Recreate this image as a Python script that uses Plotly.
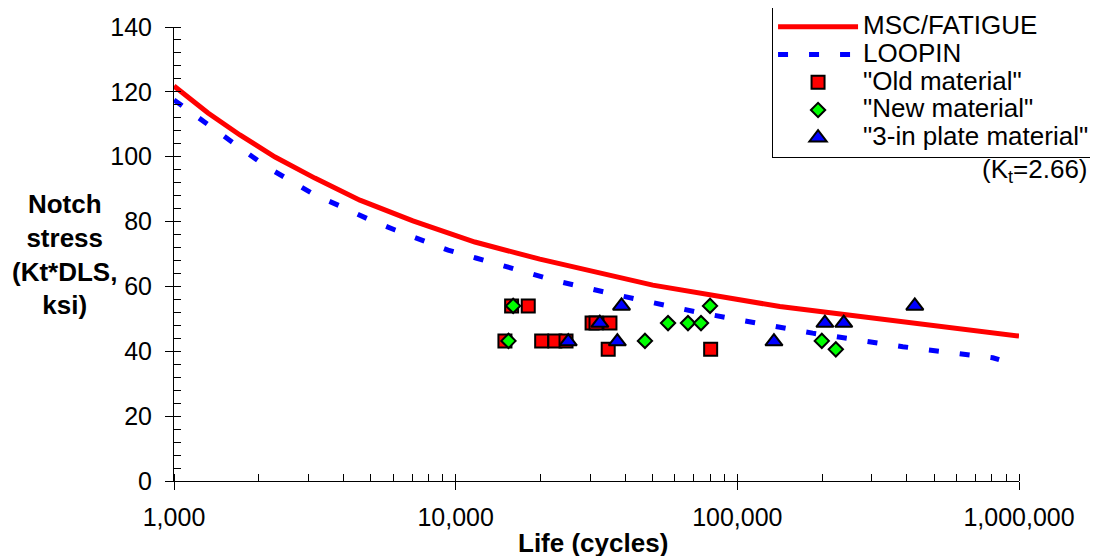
import plotly.graph_objects as go

# MSC/FATIGUE prediction curve (cycles, ksi)
msc_life = [1000, 1321, 1714, 2285, 3162, 4570, 7050, 11700, 19900, 50100, 141600, 553000, 1000000]
msc_stress = [121.8, 113.5, 106.7, 99.9, 93.4, 86.6, 80.2, 73.7, 68.4, 60.4, 53.8, 47.4, 44.7]

# LOOPIN prediction curve
loopin_life = [1000, 1204, 1456, 1757, 2132, 2617, 3162, 3934, 4887, 6095, 7657, 9400, 11880,
               22800, 37200, 73600, 185000, 387000, 807000, 850000]
loopin_stress = [117.5, 112.3, 107.2, 102.1, 96.9, 92.6, 88.2, 84.6, 80.8, 77.4, 74.3, 71.2, 68.7,
                 61.7, 57.4, 51.9, 45.6, 41.4, 38.0, 37.4]

# Test data
old_life = [14960, 15800, 18100, 20200, 22500, 24650, 30500, 31500, 35300, 34800, 80400]
old_stress = [43.2, 54.0, 54.0, 43.2, 43.2, 43.2, 48.7, 48.7, 48.7, 40.6, 40.6]

new_life = [15400, 16000, 47000, 56750, 66800, 74300, 80000, 199500, 223700]
new_stress = [43.2, 54.0, 43.2, 48.7, 48.7, 48.7, 54.0, 43.2, 40.6]

plate_life = [25100, 32500, 37500, 38800, 134900, 204600, 238700, 426600]
plate_stress = [43.0, 48.7, 43.0, 54.0, 43.0, 48.7, 48.7, 54.0]

x_ticks = [1000, 10000, 100000, 1000000]
x_ticktext = ["1,000", "10,000", "100,000", "1,000,000"]

FONT = "Arial, Liberation Sans, sans-serif"


def lg(name):
    return '<span style="font-size:26px">' + name + '</span>'


fig = go.Figure()
fig.add_trace(go.Scatter(x=msc_life, y=msc_stress, mode="lines", name=lg("MSC/FATIGUE"),
                         line=dict(color="#FF0000", width=5)))
fig.add_trace(go.Scatter(x=loopin_life, y=loopin_stress, mode="lines", name=lg("LOOPIN"),
                         line=dict(color="#0000FF", width=5, dash="10px,21px")))
fig.add_trace(go.Scatter(x=old_life, y=old_stress, mode="markers", name=lg('"Old material"'),
                         marker=dict(symbol="square", size=13, color="#FF0000",
                                     line=dict(color="#000000", width=2))))
fig.add_trace(go.Scatter(x=new_life, y=new_stress, mode="markers", name=lg('"New material"'),
                         marker=dict(symbol="diamond", size=11, color="#00FF00",
                                     line=dict(color="#000000", width=2))))
fig.add_trace(go.Scatter(x=plate_life, y=plate_stress, mode="markers", name=lg('"3-in plate material"'),
                         marker=dict(symbol="triangle-up", size=15, color="#0000FF",
                                     line=dict(color="#000000", width=2))))

fig.update_layout(
    width=1098, height=556,
    margin=dict(l=166, r=87, t=19, b=83, autoexpand=False),
    paper_bgcolor="white", plot_bgcolor="white",
    font=dict(family=FONT, size=26, color="black"),
    showlegend=True,
    legend=dict(x=1.09, xanchor="right", y=1.044, yanchor="top",
                bgcolor="white", bordercolor="black", borderwidth=1,
                font=dict(family=FONT, size=19, color="black"),
                itemwidth=80, tracegroupgap=0),
    xaxis=dict(type="log", range=[3, 6], tickmode="array", tickvals=x_ticks, ticktext=x_ticktext,
               ticks="outside", ticklen=8, tickcolor="black", tickwidth=1, automargin=False,
               showline=True, linecolor="black", linewidth=1, showgrid=False, zeroline=False,
               ticklabelstandoff=6,
               minor=dict(ticks="inside", ticklen=7, tickcolor="black", tickwidth=1,
                          dtick="D1", showgrid=False),
               tickfont=dict(family=FONT, size=25)),
    xaxis2=dict(type="log", range=[3, 6], overlaying="x", anchor="y", side="bottom",
                tickmode="array", tickvals=x_ticks, ticks="inside", ticklen=7,
                tickcolor="black", showticklabels=False, showline=False, showgrid=False,
                zeroline=False, automargin=False),
    yaxis=dict(range=[0, 140], dtick=20, ticks="outside", ticklen=8, tickcolor="black",
               tickwidth=1, showline=True, linecolor="black", linewidth=1, showgrid=False,
               zeroline=False, ticklabelstandoff=8, automargin=False,
               minor=dict(ticks="inside", ticklen=7, tickcolor="black", tickwidth=1,
                          dtick=4, showgrid=False),
               tickfont=dict(family=FONT, size=25)),
    yaxis2=dict(range=[0, 140], dtick=20, overlaying="y", anchor="x", side="left",
                ticks="inside", ticklen=7, tickcolor="black", showticklabels=False,
                showline=False, showgrid=False, zeroline=False, automargin=False),
)

fig.add_annotation(text="<b>Notch<br>stress<br>(Kt*DLS,<br>ksi)</b>", xref="paper", yref="paper",
                   x=-0.130, y=0.498, xanchor="center", yanchor="middle", showarrow=False,
                   align="center", font=dict(family=FONT, size=26, color="black"))
fig.add_annotation(text="<b>Life (cycles)</b>", xref="paper", yref="paper",
                   x=0.496, y=-0.137, xanchor="center", yanchor="middle", showarrow=False,
                   font=dict(family=FONT, size=26, color="black"))
fig.add_annotation(text="(K<sub>t</sub>=2.66)", xref="paper", yref="paper",
                   x=1.084, y=0.685, xanchor="right", yanchor="middle", showarrow=False,
                   font=dict(family=FONT, size=26, color="black"))

fig.write_html("out.html")
